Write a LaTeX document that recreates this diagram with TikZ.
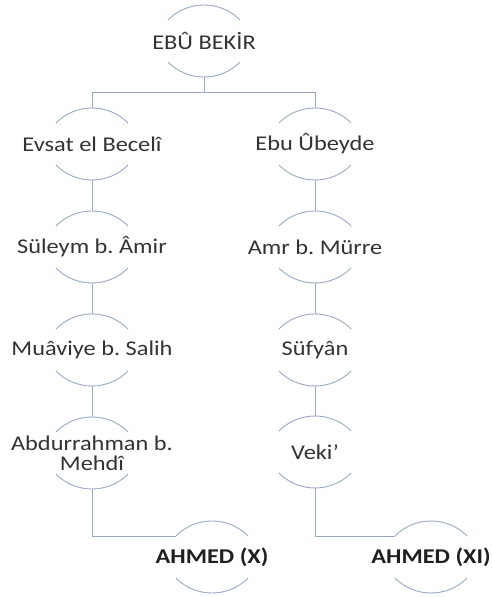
\documentclass[tikz,border=0pt]{standalone}
\usepackage{fontspec}
\setmainfont[FakeStretch=1.16]{Carlito}
\frenchspacing
\definecolor{linkgray}{HTML}{9AA8C4}
\definecolor{namegray}{HTML}{333333}
\tikzset{
  member/.style={rectangle,inner sep=0pt,minimum height=72pt,align=center,
    text=namegray,font=\fontsize{21}{20}\selectfont},
  leaf/.style={member,font=\fontsize{21}{20}\selectfont\bfseries,text=black!88},
  link/.style={linkgray,line width=0.9pt},
  rim/.style={linkgray,line width=0.9pt}
}
\begin{document}
\begin{tikzpicture}[x=1pt,y=1pt]
        % Frame of the page
        \useasboundingbox (0,0) rectangle (492,597);
        \clip (0,0) rectangle (492,597);

        % Names
        \node[member] (ebu) at (204,556) {EBÛ BEKİR};
        \node[member] (evsat) at (92,453) {Evsat el Becelî};
        \node[member] (suleym) at (92,350) {Süleym b. Âmir};
        \node[member] (muaviye) at (92,247) {Muâviye b. Salih};
        \node[member] (abdur) at (92,144) {Abdurrahman b.\\Mehdî};
        \node[leaf] (ahmedx) at (212,40) {AHMED (X)};
        \node[member] (ubeyde) at (315,453) {Ebu Ûbeyde};
        \node[member] (amr) at (315,350) {Amr b. Mürre};
        \node[member] (sufyan) at (315,247) {Süfyân};
        \node[member] (veki) at (315,145) {Veki’};
        \node[leaf] (ahmedxi) at (431,40) {AHMED (XI)};

        % Arcs above and below each name
        \foreach \n in {ebu,evsat,suleym,muaviye,abdur,ahmedx,ubeyde,amr,sufyan,veki,ahmedxi} {
          \draw[rim] ([yshift=-15pt]\n.center) ++(45:51) arc[start angle=45,end angle=135,radius=51];
          \draw[rim] ([yshift=15pt]\n.center) ++(225:51) arc[start angle=225,end angle=315,radius=51];
        }

        % Branches
        \draw[link] (ebu.south) -- ++(0,-15) -| (evsat.north);
        \draw[link] (ebu.south) -- ++(0,-15) -| (ubeyde.north);
        \draw[link] (evsat.south) -- (suleym.north);
        \draw[link] (suleym.south) -- (muaviye.north);
        \draw[link] (muaviye.south) -- (abdur.north);
        \draw[link] (ubeyde.south) -- (amr.north);
        \draw[link] (amr.south) -- (sufyan.north);
        \draw[link] (sufyan.south) -- (veki.north);

        % Down to the two Ahmeds
        \coordinate (xin) at ([shift={(-36,21)}]ahmedx.center);
        \coordinate (xiin) at ([shift={(-36,21)}]ahmedxi.center);
        \draw[link] (abdur.south) |- (xin);
        \draw[link] (veki.south) |- (xiin);
    \end{tikzpicture}
\end{document}
